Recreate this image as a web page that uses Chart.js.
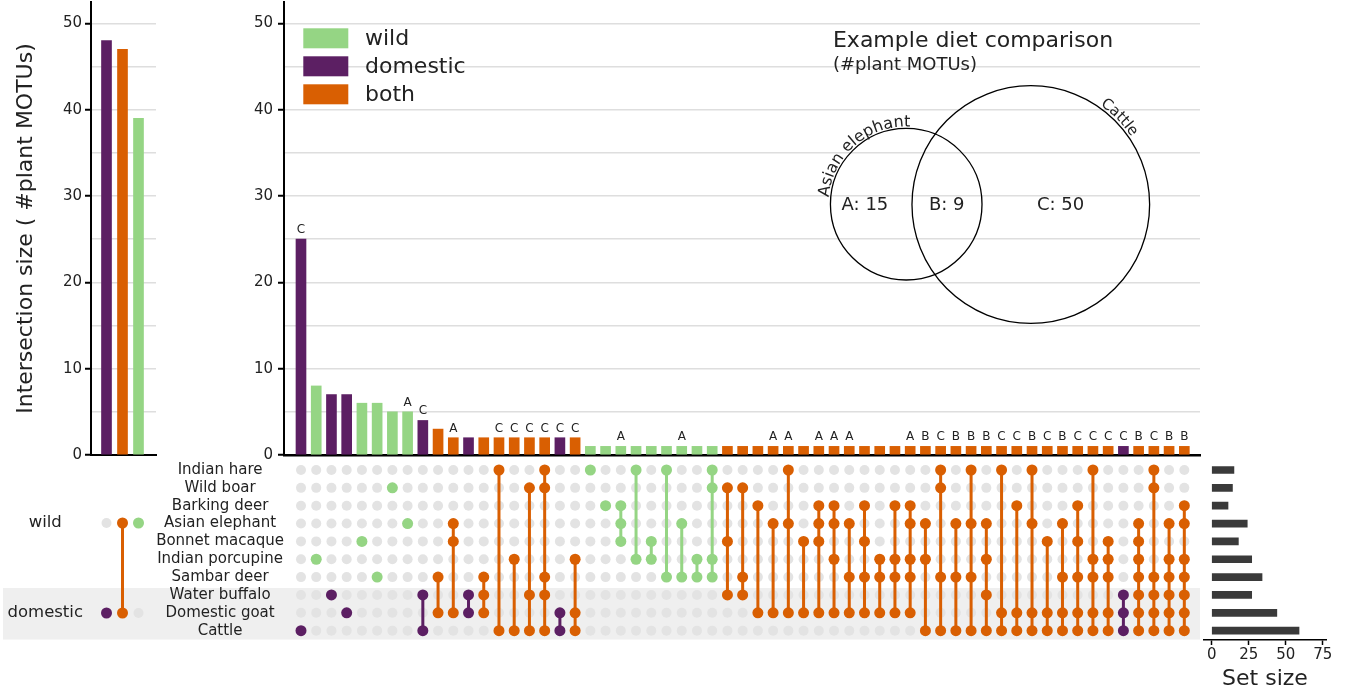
<!DOCTYPE html>
<html><head><meta charset="utf-8">
<script src="https://cdn.jsdelivr.net/npm/chart.js@4"></script>
<style>
html,body{margin:0;padding:0;background:#fff;}
#wrap{position:relative;width:1346px;height:695px;overflow:hidden;background:#fff;}
#wrap canvas{position:absolute;left:0;top:0;}
</style></head><body><div id="wrap">
<canvas id="cA" width="1346" height="695"></canvas>
<canvas id="cB" width="1346" height="695"></canvas>
<canvas id="cC" width="1346" height="695"></canvas>
<canvas id="cD" width="1346" height="695"></canvas>
<canvas id="cE" width="1346" height="695"></canvas>
</div>
<script>
// ---------------- DATA ----------------
const speciesNames = ['Indian hare','Wild boar','Barking deer','Asian elephant','Bonnet macaque','Indian porcupine','Sambar deer','Water buffalo','Domestic goat','Cattle'];
const speciesGroup = ['wild','wild','wild','wild','wild','wild','wild','domestic','domestic','domestic'];
const setSizes = [15,14,11,24,18,27,34,27,44,59];

const intersectionSizes = [25,8,7,7,6,6,5,5,4,3,2,2,2,2,2,2,2,2,2,
  1,1,1,1,1,1,1,1,1,1,1,1,1,1,1,1,1,1,1,1,
  1,1,1,1,1,1,1,1,1,1,1,1,1,1,1,1,1,1,1,1];
const intersectionMembers = [
  [9],[5],[7],[8],[4],[6],[1],[3],[7,9],[6,8],
  [3,4,8],[7,8],[6,7,8],[0,9],[5,9],[1,7,9],[0,1,6,7,9],[8,9],[5,8,9],[0],
  [2],[2,3,4],[0,5],[4,5],[0,6],[3,6],[5,6],[0,1,5,6],[1,4,7],[1,6,7],
  [2,8],[3,8],[0,3,8],[4,8],[2,3,4,8],[2,3,5,8],[3,6,8],[2,4,6,8],[5,6,8],[2,5,6,8],
  [2,3,5,6,8],[3,5,9],[0,1,6,9],[3,6,9],[0,3,6,9],[3,5,7,9],[0,8,9],[2,8,9],[0,3,8,9],[4,8,9],
  [3,6,8,9],[2,4,6,8,9],[0,5,6,8,9],[4,5,6,8,9],[7,8,9],[3,4,5,6,7,8,9],[0,1,6,7,8,9],[3,5,6,7,8,9],[2,3,5,6,7,8,9]
];

const groupLabels = ['domestic','both','wild'];
const groupSizes = [48,47,39];
const groupRows = ['wild','domestic'];
const groupMembers = [[1],[0,1],[0]];

const yTickValues = [0,5,10,15,20,25,30,35,40,45,50];
const setSizeTicks = [0,25,50,75];

const vennNames = ['Asian elephant','Cattle'];
const vennRows = [3,9];
const vennSizes = [24,59];
const vennRegionNames = ['A','B','C'];
const vennRegionCounts = [15,9,50];

// ---------------- STYLE ----------------
const COLORS = {wild:'#95d584', domestic:'#5c1f63', both:'#d95f02'};
const GREY_DOT = '#e3e3e3';
const BAND = '#efefef';
const FONT = '"DejaVu Sans", Verdana, sans-serif';
Chart.defaults.font.family = FONT;
Chart.defaults.color = '#222';
Chart.defaults.animation = false;
Chart.defaults.responsive = false;
Chart.defaults.devicePixelRatio = 1;
Chart.defaults.plugins.legend.display = false;
Chart.defaults.plugins.tooltip.enabled = false;

function typeOf(members){
  const w = members.some(r=>speciesGroup[r]==='wild');
  const d = members.some(r=>speciesGroup[r]==='domestic');
  return w && d ? 'both' : (w ? 'wild' : 'domestic');
}
function letterOf(members){
  const a = members.includes(vennRows[0]), c = members.includes(vennRows[1]);
  if (a && c) return vennRegionNames[1];
  if (a) return vennRegionNames[0];
  if (c) return vennRegionNames[2];
  return '';
}
function fix(w,h){ return function(s){ if(w!=null) s.width=w; if(h!=null) s.height=h; s.paddingTop=0; s.paddingBottom=0; s.paddingLeft=0; s.paddingRight=0; }; }
const intersectionTypes = intersectionMembers.map(typeOf);

const MAIN_X = {min:-1.116, max:59.03};
const LEFT_X = {min:-0.969, max:3.094};
const ROW_Y = {min:-0.56, max:9.524};

const yGrid = {
  color: c => c.tick.value === 0 ? 'rgba(0,0,0,0)' : '#dedede',
  lineWidth: 1.5,
  tickColor: c => c.tick.value % 10 === 0 ? '#000' : 'rgba(0,0,0,0)',
  tickLength: 6, tickWidth: 2
};
const yTicks = (pad) => ({autoSkip:false, padding:pad, font:{size:15}, color:'#222', callback: v => v % 10 === 0 ? String(v) : ''});

// ---------------- CHART A: left group bars ----------------
new Chart(document.getElementById('cA'), {
  type:'bar',
  data:{datasets:[{data: groupSizes.map((v,i)=>({x:i,y:v})), backgroundColor: groupLabels.map(g=>COLORS[g]), barThickness:10}]},
  options:{
    layout:{padding:{left:0, top:2, right:1190, bottom:225}},
    scales:{
      x:{type:'linear', offset:false, min:LEFT_X.min, max:LEFT_X.max, grid:{display:false}, ticks:{display:false}, border:{display:true,color:'#000',width:2}, afterFit:fix(null,15)},
      y:{type:'linear', min:0, max:52.47, afterBuildTicks:s=>{s.ticks=yTickValues.map(v=>({value:v}));},
         ticks:yTicks(3), grid:yGrid, border:{color:'#000',width:2},
         title:{display:true, text:'Intersection size ( #plant MOTUs)', font:{size:22}, color:'#222', padding:{top:13,bottom:0}},
         afterFit:fix(91,null)}
    }
  }
});

// ---------------- CHART B: main intersection bars ----------------
function arcText(ctx, text, cx, cy, r, mid){
  const total = ctx.measureText(text).width;
  let a = mid - total/(2*r);
  for (const ch of text){
    const w = ctx.measureText(ch).width;
    const ang = a + w/(2*r);
    ctx.save();
    ctx.translate(cx + r*Math.cos(ang), cy + r*Math.sin(ang));
    ctx.rotate(ang + Math.PI/2);
    ctx.textAlign='center'; ctx.textBaseline='alphabetic';
    ctx.fillText(ch,0,0);
    ctx.restore();
    a += w/r;
  }
}
const VENN = {
  centers:[[39.74,29.05],[47.92,29.01]], pxPerSqrt:15.47,
  labelPos:[[37.03,28.96],[42.4,28.96],[49.88,28.96]],
  arc:[{angle:-131, gap:2, size:16},{angle:-44.5, gap:2.5, size:15}],
  title:[34.93,47.29], sub:[34.93,44.59]
};
const upsetDecor = {
  id:'upsetDecor',
  afterDatasetsDraw(chart){
    const ctx = chart.ctx, xs = chart.scales.x, ys = chart.scales.y, a = chart.chartArea;
    ctx.save();
    ctx.font = '12px ' + FONT; ctx.fillStyle='#222'; ctx.textAlign='center'; ctx.textBaseline='alphabetic';
    intersectionMembers.forEach((m,k)=>{
      const L = letterOf(m);
      if (L) ctx.fillText(L, xs.getPixelForValue(k), ys.getPixelForValue(intersectionSizes[k]) - 6);
    });
    ctx.textAlign='left'; ctx.textBaseline='middle'; ctx.font='22px ' + FONT;
    chart.data.datasets.forEach((ds,i)=>{
      const y = a.top + 26.3 + i*28;
      ctx.fillStyle = ds.backgroundColor; ctx.fillRect(a.left+19.3, y, 45, 20);
      ctx.fillStyle = '#222'; ctx.fillText(ds.label, a.left+81, y+11);
    });
    ctx.textAlign='left'; ctx.textBaseline='alphabetic';
    ctx.font='22px ' + FONT; ctx.fillStyle='#222';
    ctx.fillText('Example diet comparison', xs.getPixelForValue(VENN.title[0]), ys.getPixelForValue(VENN.title[1]));
    ctx.font='18px ' + FONT;
    ctx.fillText('(#plant MOTUs)', xs.getPixelForValue(VENN.sub[0]), ys.getPixelForValue(VENN.sub[1]));
    ctx.strokeStyle='#000'; ctx.lineWidth=1.3;
    vennSizes.forEach((n,i)=>{
      const cx = xs.getPixelForValue(VENN.centers[i][0]), cy = ys.getPixelForValue(VENN.centers[i][1]);
      const r = VENN.pxPerSqrt*Math.sqrt(n);
      ctx.beginPath(); ctx.arc(cx,cy,r,0,Math.PI*2); ctx.stroke();
      const ar = VENN.arc[i];
      ctx.font = ar.size + 'px ' + FONT; ctx.fillStyle='#222';
      arcText(ctx, vennNames[i], cx, cy, r + ar.gap, ar.angle*Math.PI/180);
    });
    ctx.font='18px ' + FONT; ctx.textAlign='center'; ctx.textBaseline='middle';
    vennRegionNames.forEach((nm,i)=>{
      ctx.fillText(nm + ': ' + vennRegionCounts[i], xs.getPixelForValue(VENN.labelPos[i][0]), ys.getPixelForValue(VENN.labelPos[i][1]));
    });
    ctx.restore();
  }
};
const legendOrder = ['wild','domestic','both'];
new Chart(document.getElementById('cB'), {
  type:'bar',
  data:{datasets: legendOrder.map(t=>({
    label:t, backgroundColor:COLORS[t], barThickness:10, grouped:false,
    data: intersectionSizes.map((v,k)=>({x:k,y:v})).filter((p,k)=>intersectionTypes[k]===t)
  }))},
  options:{
    layout:{padding:{left:184, top:2, right:146, bottom:225}},
    scales:{
      x:{type:'linear', offset:false, min:MAIN_X.min, max:MAIN_X.max, grid:{display:false}, ticks:{display:false}, border:{display:true,color:'#000',width:2.5}, afterFit:fix(null,15)},
      y:{type:'linear', min:0, max:52.47, afterBuildTicks:s=>{s.ticks=yTickValues.map(v=>({value:v}));},
         ticks:yTicks(5), grid:yGrid, border:{color:'#000',width:2}, afterFit:fix(100,null)}
    }
  },
  plugins:[upsetDecor]
});

// ---------------- CHART C: main matrix ----------------
const bandPlugin = {
  id:'band',
  beforeDraw(chart){
    const ctx = chart.ctx, ys = chart.scales.y;
    const firstDom = speciesGroup.indexOf('domestic');
    ctx.save(); ctx.fillStyle = BAND;
    const top = ys.getPixelForValue(firstDom - 0.5) + 2, bot = ys.getPixelForValue(speciesNames.length - 0.5);
    ctx.fillRect(3, top, chart.chartArea.right - 3, bot - top);
    ctx.restore();
  }
};
const greyPts = [];
intersectionMembers.forEach((m,k)=>speciesNames.forEach((s,r)=>greyPts.push({x:k,y:r})));
const matrixSets = [];
legendOrder.forEach(t=>{
  const pts = [];
  intersectionMembers.forEach((m,k)=>{ if(intersectionTypes[k]===t) m.forEach(r=>pts.push({x:k,y:r})); });
  matrixSets.push({type:'scatter', data:pts, pointRadius:5.5, pointBackgroundColor:COLORS[t], pointBorderWidth:0, showLine:false, order:1});
});
intersectionMembers.forEach((m,k)=>{
  if (m.length>1) matrixSets.push({type:'scatter', data:[{x:k,y:Math.min(...m)},{x:k,y:Math.max(...m)}], showLine:true, borderColor:COLORS[intersectionTypes[k]], borderWidth:3, pointRadius:0, order:2});
});
matrixSets.push({type:'scatter', data:greyPts, pointRadius:5, pointBackgroundColor:GREY_DOT, pointBorderWidth:0, order:3});
new Chart(document.getElementById('cC'), {
  type:'scatter',
  data:{datasets:matrixSets},
  options:{
    layout:{padding:{left:140, top:460, right:146, bottom:55}},
    scales:{
      x:{type:'linear', offset:false, min:MAIN_X.min, max:MAIN_X.max, display:false},
      y:{type:'linear', offset:false, reverse:true, min:ROW_Y.min, max:ROW_Y.max, afterBuildTicks:s=>{s.ticks=speciesNames.map((n,i)=>({value:i}));},
         grid:{display:false, drawTicks:false}, border:{display:false},
         ticks:{autoSkip:false, crossAlign:'center', padding:0, font:{size:15}, color:'#222', callback:v=>speciesNames[v]},
         afterFit:fix(144,null)}
    }
  },
  plugins:[bandPlugin]
});

// ---------------- CHART D: left group matrix ----------------
const dSets = [];
groupLabels.forEach((g,k)=>{
  dSets.push({type:'scatter', data: groupMembers[k].map(r=>({x:k,y:r})), pointRadius:5.5, pointBackgroundColor:COLORS[g], pointBorderWidth:0, order:1});
  if (groupMembers[k].length>1) dSets.push({type:'scatter', data:[{x:k,y:Math.min(...groupMembers[k])},{x:k,y:Math.max(...groupMembers[k])}], showLine:true, borderColor:COLORS[g], borderWidth:3, pointRadius:0, order:2});
});
const dGrey = []; groupLabels.forEach((g,k)=>groupRows.forEach((r,i)=>dGrey.push({x:k,y:i})));
dSets.push({type:'scatter', data:dGrey, pointRadius:5, pointBackgroundColor:GREY_DOT, pointBorderWidth:0, order:3});
new Chart(document.getElementById('cD'), {
  type:'scatter',
  data:{datasets:dSets},
  options:{
    layout:{padding:{left:0, top:460, right:1190, bottom:55}},
    scales:{
      x:{type:'linear', offset:false, min:LEFT_X.min, max:LEFT_X.max, display:false},
      y:{type:'linear', offset:false, reverse:true, min:-0.7, max:1.3, afterBuildTicks:s=>{s.ticks=groupRows.map((n,i)=>({value:i}));},
         grid:{display:false, drawTicks:false}, border:{display:false},
         ticks:{autoSkip:false, crossAlign:'center', padding:8, font:{size:16.5}, color:'#222', callback:v=>groupRows[v]},
         afterFit:fix(91,null)}
    }
  }
});

// ---------------- CHART E: set sizes ----------------
new Chart(document.getElementById('cE'), {
  type:'bar',
  data:{datasets:[{data:setSizes.map((v,i)=>({x:v,y:i})), backgroundColor:'#3a3a3a', barThickness:7}]},
  options:{
    indexAxis:'y',
    layout:{padding:{left:1203.3, top:460, right:19.3, bottom:0}},
    scales:{
      y:{type:'linear', offset:false, reverse:true, min:ROW_Y.min, max:ROW_Y.max, display:false},
      x:{type:'linear', offset:false, position:'bottom', min:-5.7, max:77.7, afterBuildTicks:s=>{s.ticks=setSizeTicks.map(v=>({value:v}));},
         grid:{drawOnChartArea:false, color:'#000', tickColor:'#000', tickLength:5, tickWidth:1.5},
         border:{display:true, color:'#000', width:1.5},
         ticks:{autoSkip:false, maxRotation:0, padding:1, font:{size:15}, color:'#222'},
         title:{display:true, text:'Set size', font:{size:22}, color:'#222', padding:{top:0,bottom:3}},
         afterFit:fix(null,55)}
    }
  }
});
</script></body></html>
